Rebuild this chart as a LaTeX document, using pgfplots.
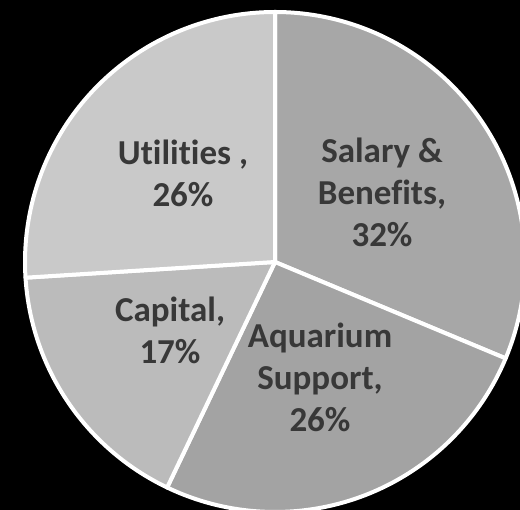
\documentclass[border=0pt]{standalone}
\usepackage{pgfplots}
\pgfplotsset{compat=1.18}
\usepackage{fontspec}
\setmainfont{Carlito}[Ligatures={NoCommon,NoContextual}]
\definecolor{cSal}{HTML}{A7A7A7}
\definecolor{cAqu}{HTML}{A3A3A3}
\definecolor{cCap}{HTML}{BBBBBB}
\definecolor{cUti}{HTML}{C9C9C9}
\definecolor{cTxt}{HTML}{383838}
% slice shares (percent), clockwise from 12 o'clock
\def\vSal{31.3}
\def\vAqu{25.8}
\def\vCap{16.9}
\def\vUti{26.0}
\def\R{250}
\begin{document}
\begin{tikzpicture}
\begin{axis}[x=1pt,y=1pt,xmin=-275,xmax=245,ymin=-248,ymax=262,
  hide axis, scale only axis, clip=true]
\fill[black] (axis cs:-275,-248) rectangle (axis cs:245,262);
\coordinate (BL) at (axis cs:-275,-248);
\coordinate (TR) at (axis cs:245,262);
\fill[cSal, draw=white, line width=4pt, line join=round] (axis cs:0,0) -- (axis cs:{\R*cos(90)},{\R*sin(90)}) arc[start angle=90, end angle={90-3.6*\vSal}, radius=\R] -- cycle;
\fill[cAqu, draw=white, line width=4pt, line join=round] (axis cs:0,0) -- (axis cs:{\R*cos(90-3.6*\vSal)},{\R*sin(90-3.6*\vSal)}) arc[start angle={90-3.6*\vSal}, end angle={90-3.6*(\vSal+\vAqu)}, radius=\R] -- cycle;
\fill[cCap, draw=white, line width=4pt, line join=round] (axis cs:0,0) -- (axis cs:{\R*cos(90-3.6*(\vSal+\vAqu))},{\R*sin(90-3.6*(\vSal+\vAqu))}) arc[start angle={90-3.6*(\vSal+\vAqu)}, end angle={90-3.6*(\vSal+\vAqu+\vCap)}, radius=\R] -- cycle;
\fill[cUti, draw=white, line width=4pt, line join=round] (axis cs:0,0) -- (axis cs:{\R*cos(90-3.6*(\vSal+\vAqu+\vCap))},{\R*sin(90-3.6*(\vSal+\vAqu+\vCap))}) arc[start angle={90-3.6*(\vSal+\vAqu+\vCap)}, end angle={90-3.6*(\vSal+\vAqu+\vCap+\vUti)}, radius=\R] -- cycle;
\tikzset{lbl/.style={align=center, text=cTxt, font=\fontsize{35}{42}\selectfont\bfseries}}
\node[lbl] at (axis cs:-92,89) {Utilities ,\\26\%};
\node[lbl] at (axis cs:107,70) {Salary \&\\Benefits,\\32\%};
\node[lbl] at (axis cs:-105,-68) {Capital,\\17\%};
\node[lbl] at (axis cs:45,-115) {Aquarium\\Support,\\26\%};
\end{axis}
\pgfresetboundingbox
\useasboundingbox (BL) rectangle (TR);
\end{tikzpicture}
\end{document}
